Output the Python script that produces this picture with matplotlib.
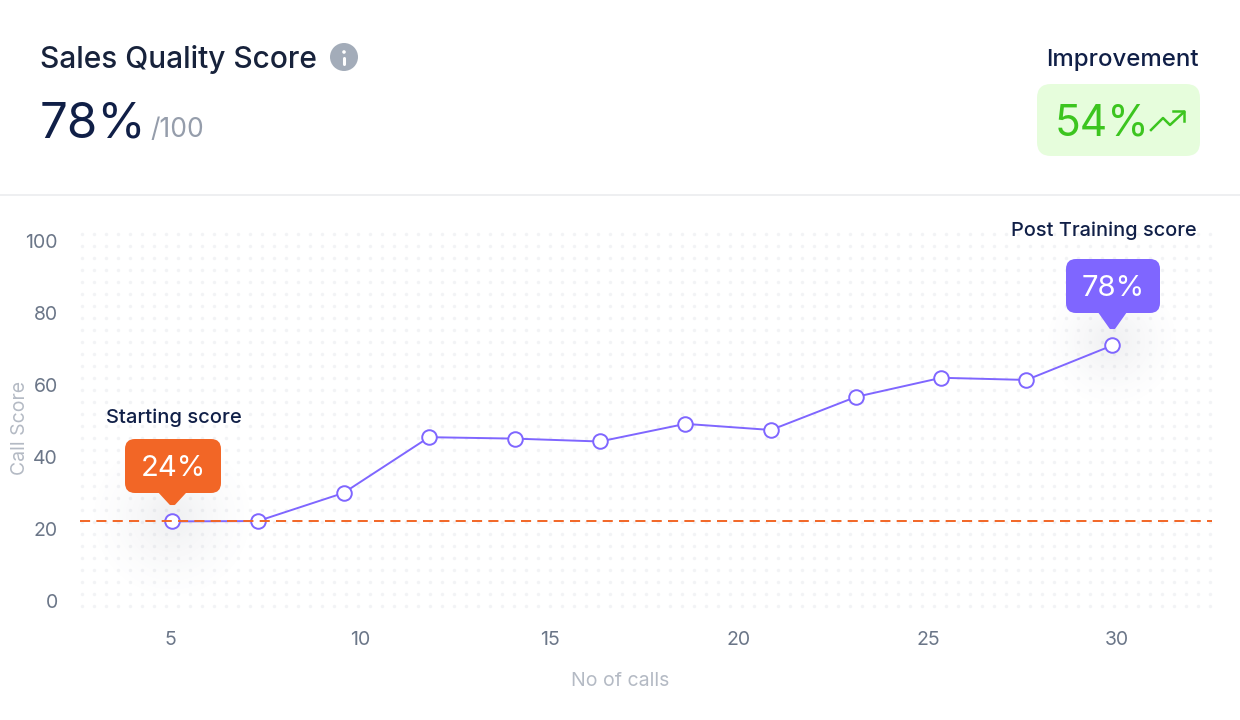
import numpy as np
import matplotlib
matplotlib.use("Agg")
import matplotlib.pyplot as plt
from matplotlib.patches import FancyBboxPatch, Circle, Polygon

plt.rcParams['font.family'] = ['Inter', 'DejaVu Sans']

# datos
calls = [5.04, 7.3, 9.56, 11.82, 14.08, 16.33, 18.59, 20.85, 23.1, 25.35, 27.6, 29.87]
scores = [22.1, 22.2, 30.0, 45.5, 45.1, 44.3, 49.2, 47.5, 56.7, 62.0, 61.4, 71.0]
start_line = 22.2
x_ticks = [5, 10, 15, 20, 25, 30]
y_ticks = [0, 20, 40, 60, 80, 100]

PURPLE = '#7f66ff'
ORANGE = '#f26626'
NAVY = '#101f47'
DARK = '#17223b'
GREY = '#6b7688'
LIGHT = '#b4bac4'

W, H = 1240, 720
fig = plt.figure(figsize=(W / 100, H / 100), dpi=100, facecolor='white')

# eje del grafico, colocado en pixeles
left, right, top, bottom = 80, 1212, 232, 606
ax = fig.add_axes([left / W, 1 - bottom / H, (right - left) / W, (bottom - top) / H])
ax.set_xlim(2.6, 32.5)
ax.set_ylim(-1.4, 102.5)
ax.patch.set_alpha(0)
for s in ax.spines.values():
    s.set_visible(False)
ax.set_xticks(x_ticks)
ax.set_yticks(y_ticks)
ax.tick_params(axis='x', length=0, pad=18, labelsize=14, labelcolor=GREY)
ax.tick_params(axis='y', length=0, pad=16, labelsize=14, labelcolor=GREY)
ax.set_zorder(3)

ax.plot(calls, scores, color=PURPLE, lw=1.4, marker='o', ms=10.5, mfc='white',
        mec=PURPLE, mew=1.4, zorder=3, clip_on=False)
ax.axhline(start_line, color=ORANGE, lw=1.4, dashes=(5.2, 3.2), zorder=4)

# capa de fondo y anotaciones en coordenadas de pixel
bg = fig.add_axes([0, 0, 1, 1], zorder=1)
bg.set_xlim(0, W)
bg.set_ylim(H, 0)
bg.axis('off')
over = fig.add_axes([0, 0, 1, 1], zorder=5)
over.set_xlim(0, W)
over.set_ylim(H, 0)
over.axis('off')
over.patch.set_alpha(0)


def to_px(x, y):
    px, py = ax.transData.transform((x, y))
    return px, H - py


# rejilla de puntos
gx, gy = np.meshgrid(np.arange(82, right, 12), np.arange(234, bottom + 2, 12))
bg.scatter(gx.ravel(), gy.ravel(), s=6, color='#f2f3f5', linewidths=0, zorder=1)


def halo(cx, cy, r, strength=0.11):
    yy, xx = np.mgrid[-r:r + 1, -r:r + 1]
    d = np.clip(1 - np.hypot(xx, yy) / r, 0, 1)
    img = np.zeros(d.shape + (4,))
    img[..., :3] = 0.42, 0.44, 0.52
    img[..., 3] = strength * d ** 1.5
    bg.imshow(img, extent=(cx - r, cx + r, cy + r, cy - r), zorder=2, aspect='auto',
              interpolation='bilinear')


def tooltip(x, y, label, color, x0, x1, y0, y1, tip, r):
    cx, cy = to_px(x, y)
    halo(cx, cy - 4, r)
    over.add_patch(FancyBboxPatch((x0 + 10, y0 + 10), x1 - x0 - 20, y1 - y0 - 20,
                                  boxstyle='round,pad=10,rounding_size=10', fc=color,
                                  ec='none', zorder=3))
    over.add_patch(Polygon([(cx - 14, y1 - 2), (cx + 14, y1 - 2), (cx + 2, tip - 1), (cx - 2, tip - 1)],
                           closed=True, fc=color, ec=color, lw=1.5, joinstyle='round', zorder=3))
    over.text((x0 + x1) / 2, (y0 + y1) / 2 + 3, label, color='white', fontsize=21,
              ha='center', va='center', zorder=4)


tooltip(calls[0], scores[0], '24%', ORANGE, 125, 221, 439, 493, 505, 88)
tooltip(calls[-1], scores[-1], '78%', PURPLE, 1066, 1160, 259, 313, 329, 72)
over.text(173.5, 418, 'Starting score', color=NAVY, fontsize=14.5, weight='medium', ha='center', va='center')
over.text(1104, 231, 'Post Training score', color=NAVY, fontsize=14.4, weight='medium', ha='center', va='center')

# cabecera
over.plot([0, W], [195, 195], color='#eeeff1', lw=1.4, zorder=1)
over.text(40, 59.5, 'Sales Quality Score', color=DARK, fontsize=21.5, weight='medium', ha='left', va='center')
over.add_patch(Circle((344, 57), 14, fc='#a3acb9', ec='none'))
over.add_patch(Circle((344, 52), 1.8, fc='white', ec='none'))
over.plot([344, 344], [58, 64], color='white', lw=2.2, solid_capstyle='round')
over.text(40, 138, '78%', color=NAVY, fontsize=35.5, ha='left', va='baseline')
over.text(150, 137, '/100', color='#959dab', fontsize=19, ha='left', va='baseline')
over.text(1199, 60, 'Improvement', color=NAVY, fontsize=17.3, weight='medium', ha='right', va='center')

GREEN = '#3cc51f'
over.add_patch(FancyBboxPatch((1051, 98), 135, 44, boxstyle='round,pad=14,rounding_size=14',
                              fc='#e6fddc', ec='none'))
over.text(1055, 136, '54%', color=GREEN, fontsize=30.5, ha='left', va='baseline')
over.plot([1151, 1163, 1170, 1184], [130, 118, 125, 112], color=GREEN, lw=1.8)
over.plot([1173, 1184, 1184], [111, 111, 121], color=GREEN, lw=1.8)

# titulos de ejes
over.text(620, 681, 'No of calls', color=LIGHT, fontsize=14, ha='center', va='center')
over.text(20, 428, 'Call Score', color=LIGHT, fontsize=14, ha='center', va='center', rotation=90)

fig.savefig('out.png', dpi=100)
